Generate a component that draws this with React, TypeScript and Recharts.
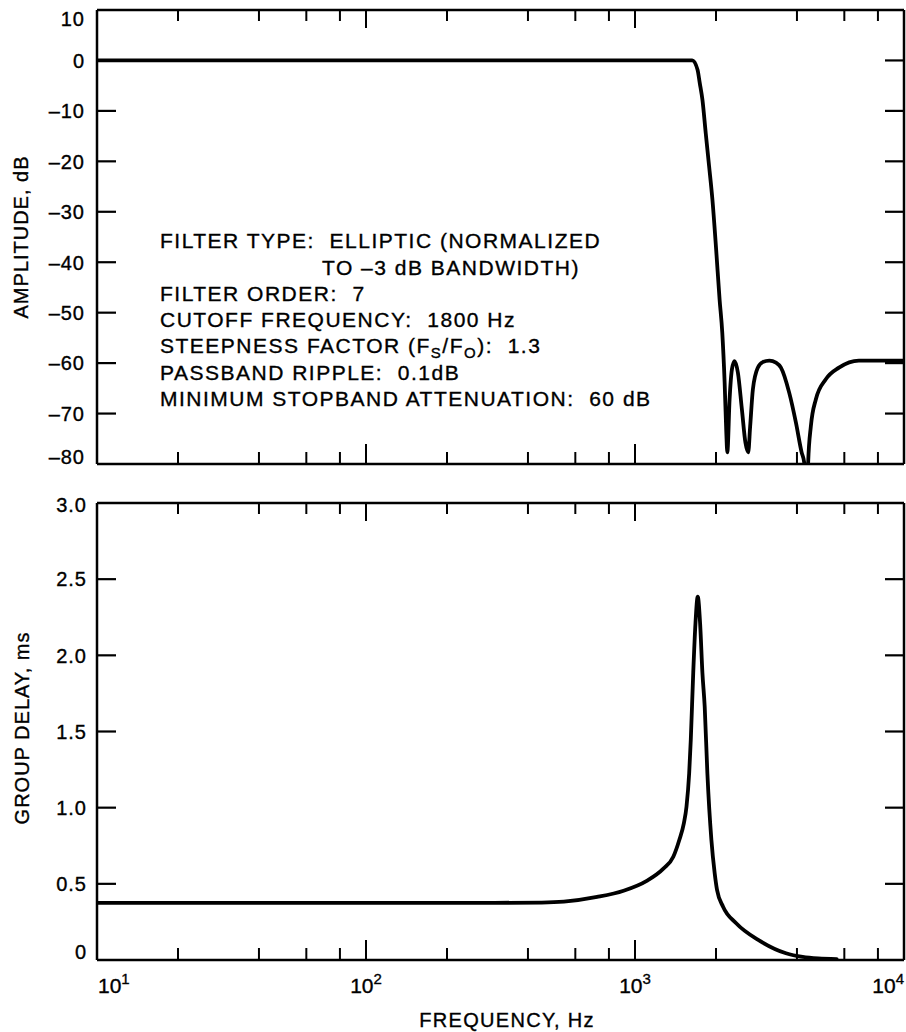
import React from 'react';
import { LineChart, Line, XAxis, YAxis } from 'recharts';

// ---------- data ----------
const FREQ_TICKS = [10, 20, 40, 60, 80, 100, 200, 400, 600, 800, 1000, 2000, 4000, 6000, 8000, 10000];
const FREQ_DECADES = [10, 100, 1000, 10000];
const FREQ_DECADE_EXP = ['1', '2', '3', '4'];

const AMP_TICKS = [10, 0, -10, -20, -30, -40, -50, -60, -70, -80];
const DELAY_TICKS = [0, 0.5, 1, 1.5, 2, 2.5, 3];
const DELAY_TICK_LABELS = ['0', '0.5', '1.0', '1.5', '2.0', '2.5', '3.0'];

const ampFreq = [10, 100, 1000, 1388, 1632, 1707, 1741, 1781, 1832, 1886, 1940, 2003, 2063, 2111, 2154, 2185, 2204, 2247, 2293, 2344, 2413, 2497, 2574, 2635, 2680, 2743, 2861, 2985, 3158, 3343, 3488, 3745, 3965, 4163, 4256, 4330, 4403, 4506, 4701, 5120, 5731, 6796, 8000, 10000];
const ampDb = [0, 0, 0, 0, 0, -1.8, -4.5, -7.8, -14.4, -21, -27.6, -37.5, -47.4, -54, -63.9, -73.8, -77.7, -67.2, -61.2, -59.6, -61.9, -69.2, -75.8, -77.7, -72.5, -65.2, -60.9, -59.8, -59.5, -59.9, -60.9, -65.9, -71.8, -77.7, -79.7, -95, -79.7, -72.5, -67.2, -63.2, -60.9, -59.5, -59.5, -59.5];

const delayFreq = [10, 100, 300, 450, 544, 723, 907, 1106, 1275, 1388, 1461, 1519, 1554, 1590, 1612, 1646, 1678, 1711, 1746, 1781, 1816, 1858, 1923, 1978, 2018, 2125, 2378, 2901, 3641, 4200, 4800, 5620];
const delayMs = [0.375, 0.375, 0.375, 0.377, 0.383, 0.414, 0.455, 0.52, 0.6, 0.678, 0.788, 0.897, 1.007, 1.226, 1.445, 1.883, 2.21, 2.385, 2.21, 1.883, 1.663, 1.226, 0.788, 0.569, 0.46, 0.35, 0.241, 0.127, 0.044, 0.02, 0.01, 0.006];

const AMP_TITLE = 'AMPLITUDE, dB';
const DELAY_TITLE = 'GROUP DELAY, ms';
const FREQ_TITLE = 'FREQUENCY, Hz';

const ANNOTATION_LINES = [
  'FILTER TYPE:  ELLIPTIC (NORMALIZED',
  'TO \u20133 dB BANDWIDTH)',
  'FILTER ORDER:  7',
  'CUTOFF FREQUENCY:  1800 Hz',
  'STEEPNESS FACTOR (F_{S}/F_{O}):  1.3',
  'PASSBAND RIPPLE:  0.1dB',
  'MINIMUM STOPBAND ATTENUATION:  60 dB',
];

const ampData = ampFreq.map((f, i) => ({ f, v: ampDb[i] }));
const delayData = delayFreq.map((f, i) => ({ f, v: delayMs[i] }));

// ---------- style ----------
const FONT = '"Liberation Sans", Arial, Helvetica, sans-serif';
const INK = '#000';
const TEXT_STROKE = { stroke: INK, strokeWidth: 0.35 };

function renderRich(s: string) {
  const parts = s.split(/(_\{[^}]*\})/);
  const out: React.ReactNode[] = [];
  let sub = false;
  parts.forEach((p, i) => {
    if (!p) return;
    if (p.startsWith('_{')) {
      out.push(
        <tspan key={i} dy={5} fontSize={15}>{p.slice(2, -1)}</tspan>
      );
      sub = true;
    } else {
      out.push(
        <tspan key={i} dy={sub ? -5 : 0}>{p}</tspan>
      );
      sub = false;
    }
  });
  return out;
}

const makeXTick = (side: 'top' | 'bottom', withLabels: boolean) => (props: any) => {
  const { x, y, payload } = props;
  const v = payload.value;
  const di = FREQ_DECADES.indexOf(v);
  const major = di >= 0;
  const len = major ? (side === 'bottom' ? 20 : 18) : (side === 'bottom' ? 12 : 11);
  const dir = side === 'bottom' ? -1 : 1;
  const showLine = v !== 10 && v !== 10000;
  let label: React.ReactNode = null;
  if (withLabels && major) {
    const anchor = di === 0 ? 'start' : di === FREQ_DECADES.length - 1 ? 'end' : 'middle';
    label = (
      <text x={x + (di === 0 ? 1 : 0)} y={y + 33} textAnchor={anchor} fontFamily={FONT} fontSize={21} fill={INK} {...TEXT_STROKE}>
        <tspan>10</tspan>
        <tspan dy={-9} fontSize={15}>{FREQ_DECADE_EXP[di]}</tspan>
      </text>
    );
  }
  return (
    <g>
      {showLine && <line x1={x} y1={y} x2={x} y2={y + dir * len} stroke={INK} strokeWidth={2} />}
      {label}
    </g>
  );
};

const makeYTick = (
  side: 'left' | 'right',
  ticks: number[],
  labels: string[] | null,
  labelOffsets: { first: number; last: number; mid: number },
  gap: number,
) => (props: any) => {
  const { x, y, payload } = props;
  const v = payload.value;
  const idx = ticks.indexOf(v);
  const hi = Math.max(...ticks);
  const lo = Math.min(...ticks);
  const isEnd = v === hi || v === lo;
  const dir = side === 'left' ? 1 : -1;
  let dy = labelOffsets.mid;
  if (v === hi) dy = labelOffsets.first;
  if (v === lo) dy = labelOffsets.last;
  return (
    <g>
      {!isEnd && <line x1={x} y1={y} x2={x + dir * 19} y2={y} stroke={INK} strokeWidth={2.2} />}
      {labels && (
        <text x={x - gap} y={y + dy} textAnchor="end" fontFamily={FONT} fontSize={20} letterSpacing={1} fill={INK} {...TEXT_STROKE}>
          {labels[idx]}
        </text>
      )}
    </g>
  );
};

const AMP_LABELS = AMP_TICKS.map((t) => (t < 0 ? '\u2013' + Math.abs(t) : String(t)));

const axisCommon = {
  tickSize: 0,
  tickMargin: 0,
  interval: 0 as const,
  axisLine: { stroke: INK, strokeWidth: 2.5 },
  tickLine: false,
};

export default function App() {
  return (
    <div style={{ position: 'relative', width: 906, height: 1032, background: '#fff', fontFamily: FONT }}>
      <style>{'body{margin:0;background:#fff}'}</style>

      {/* top: amplitude */}
      <div style={{ position: 'absolute', left: 0, top: 0 }}>
        <LineChart width={906} height={480} data={ampData} margin={{ top: 9, right: 1, bottom: 15, left: 96 }}>
          <XAxis xAxisId="b" dataKey="f" type="number" scale="log" domain={[10, 10000]} allowDataOverflow
            ticks={FREQ_TICKS} orientation="bottom" height={1} {...axisCommon} tick={makeXTick('bottom', false)} />
          <XAxis xAxisId="t" dataKey="f" type="number" scale="log" domain={[10, 10000]} allowDataOverflow
            ticks={FREQ_TICKS} orientation="top" height={1} {...axisCommon} tick={makeXTick('top', false)} />
          <YAxis yAxisId="l" type="number" domain={[-80, 10]} allowDataOverflow ticks={AMP_TICKS} orientation="left"
            width={1} {...axisCommon}
            tick={makeYTick('left', AMP_TICKS, AMP_LABELS, { first: 16, last: 0, mid: 7.3 }, 12)} />
          <YAxis yAxisId="r" type="number" domain={[-80, 10]} allowDataOverflow ticks={AMP_TICKS} orientation="right"
            width={1} {...axisCommon} tick={makeYTick('right', AMP_TICKS, null, { first: 0, last: 0, mid: 0 }, 0)} />
          <Line xAxisId="b" yAxisId="l" dataKey="v" type="monotone" stroke={INK} strokeWidth={3.8}
            dot={false} isAnimationActive={false} strokeLinejoin="round" strokeLinecap="round" />
        </LineChart>
      </div>

      {/* bottom: group delay */}
      <div style={{ position: 'absolute', left: 0, top: 480 }}>
        <LineChart width={906} height={552} data={delayData} margin={{ top: 22, right: 1, bottom: 71, left: 96 }}>
          <XAxis xAxisId="b" dataKey="f" type="number" scale="log" domain={[10, 10000]} allowDataOverflow
            ticks={FREQ_TICKS} orientation="bottom" height={1} {...axisCommon} tick={makeXTick('bottom', true)} />
          <XAxis xAxisId="t" dataKey="f" type="number" scale="log" domain={[10, 10000]} allowDataOverflow
            ticks={FREQ_TICKS} orientation="top" height={1} {...axisCommon} tick={makeXTick('top', false)} />
          <YAxis yAxisId="l" type="number" domain={[0, 3]} allowDataOverflow ticks={DELAY_TICKS} orientation="left"
            width={1} {...axisCommon}
            tick={makeYTick('left', DELAY_TICKS, DELAY_TICK_LABELS, { first: 9, last: -1, mid: 7.3 }, 10)} />
          <YAxis yAxisId="r" type="number" domain={[0, 3]} allowDataOverflow ticks={DELAY_TICKS} orientation="right"
            width={1} {...axisCommon} tick={makeYTick('right', DELAY_TICKS, null, { first: 0, last: 0, mid: 0 }, 0)} />
          <Line xAxisId="b" yAxisId="l" dataKey="v" type="monotone" stroke={INK} strokeWidth={3.8}
            dot={false} isAnimationActive={false} strokeLinejoin="round" strokeLinecap="round" />
        </LineChart>
      </div>

      {/* text overlay */}
      <svg width={906} height={1032} style={{ position: 'absolute', left: 0, top: 0, pointerEvents: 'none' }}>
        <g fontFamily={FONT} fill={INK} {...TEXT_STROKE}>
          {ANNOTATION_LINES.map((line, i) => (
            <text key={i} xmlSpace="preserve" style={{ whiteSpace: 'pre' }} x={i === 1 ? 322 : 160}
              y={[248, 274.5, 301, 327, 353, 379.5, 406][i]} fontSize={21} letterSpacing={1.5}>
              {renderRich(line)}
            </text>
          ))}
          <text transform="translate(28,237) rotate(-90)" textAnchor="middle" fontSize={20} letterSpacing={1}>
            {AMP_TITLE}
          </text>
          <text transform="translate(29,728) rotate(-90)" textAnchor="middle" fontSize={20} letterSpacing={1}>
            {DELAY_TITLE}
          </text>
          <text x={507} y={1027} textAnchor="middle" fontSize={20} letterSpacing={1.3}>
            {FREQ_TITLE}
          </text>
        </g>
      </svg>
    </div>
  );
}
